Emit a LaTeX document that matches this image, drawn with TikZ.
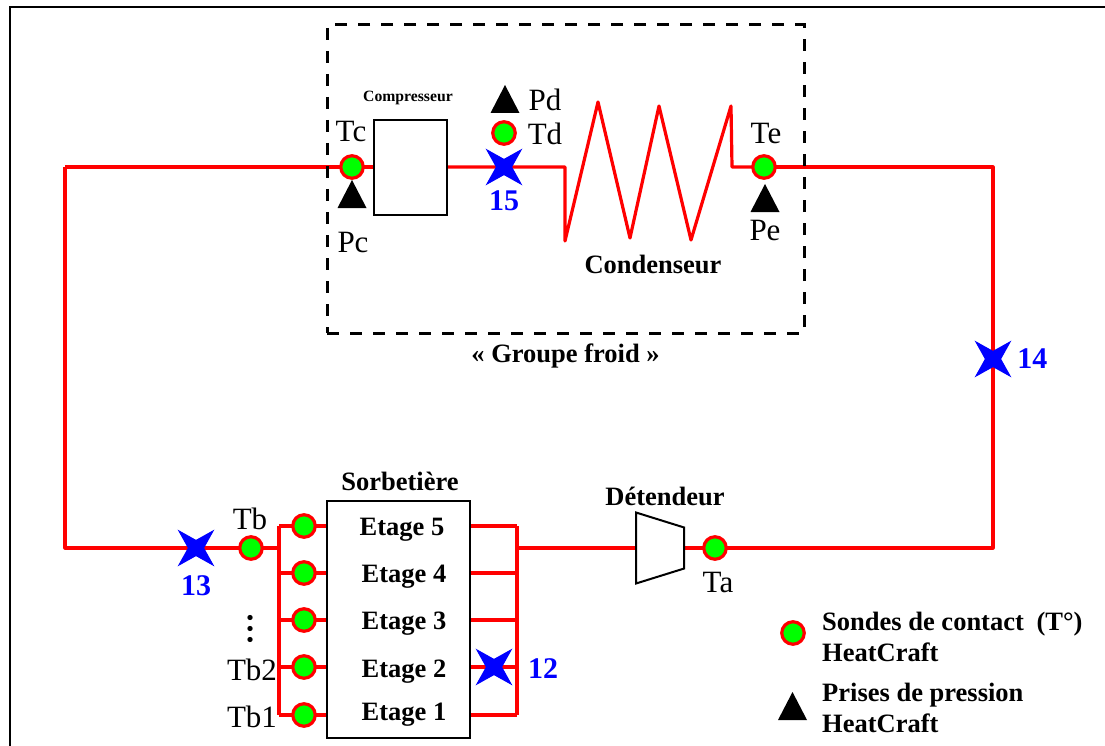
\documentclass[tikz,border=0pt]{standalone}
\usepackage{fontspec}
\setmainfont{Liberation Serif}
\usepackage{tikz}
\usetikzlibrary{shapes.geometric,backgrounds,positioning}

\begin{document}
\begin{tikzpicture}[
  x=1pt,y=-1pt,
  pipe/.style={draw=red,line width=3.2pt,line join=round},
  sonde/.style={circle,draw=red,fill=green,line width=3.2pt,minimum size=22.5pt,inner sep=0pt,outer sep=0pt},
  prise/.style={isosceles triangle,isosceles triangle stretches,shape border rotate=90,
    fill=black,inner sep=1pt,minimum width=29pt,minimum height=28pt,outer sep=0pt,anchor=lower side},
  vanne/.style={star,star points=4,star point ratio=3.2,shape border rotate=45,fill=blue,
    minimum size=52pt,inner sep=0pt,outer sep=0pt},
  numlbl/.style={font=\fontsize{30}{30}\selectfont\bfseries,text=blue,inner sep=0pt},
  boxlbl/.style={font=\fontsize{26.5}{26.5}\selectfont\bfseries,inner sep=0pt},
  senslbl/.style={font=\fontsize{31}{31}\selectfont,inner sep=0pt},
  equip/.style={draw=black,fill=white,line width=2.5pt,inner sep=0pt,outer sep=0pt}
]
\useasboundingbox (0,0) rectangle (1105,746);
% cadre exterieur
\coordinate (cadreA) at (10,746);
\coordinate (cadreB) at (10,7);
\coordinate (cadreC) at (1105,7);
\draw[line width=2.5pt] (cadreA)--(cadreB)--(cadreC);

% groupe froid
\node[draw=black,line width=3pt,dash pattern=on 12pt off 11pt,minimum width=477pt,minimum height=308pt,
  inner sep=0pt,outer sep=0pt,anchor=north west] (groupe) at (327,25) {};
\node[boxlbl,below=11pt of groupe] (groupelbl) {« Groupe froid »};

% coins du circuit
\coordinate (cA) at (65,167);
\coordinate (cB) at (65,548);
\coordinate (cC) at (993,167);
\coordinate (cD) at (993,548);
\coordinate (busG) at (279,548);
\coordinate (busD) at (517,548);
\coordinate (z0) at (565,167);
\coordinate (z1) at (565,241);
\coordinate (z2) at (598,102);
\coordinate (z3) at (630,238);
\coordinate (z4) at (659,106);
\coordinate (z5) at (691,240);
\coordinate (z6) at (731,106);
\coordinate (z7) at (732,167);

% equipements
\node[equip,minimum width=73pt,minimum height=95pt,anchor=north west] (comp) at (374,120) {};
\node[font=\fontsize{15.7}{15.7}\selectfont\bfseries,inner sep=0pt] (complbl) at (408,98) {Compresseur};
\node[boxlbl] (condlbl) at (653,264) {Condenseur};
\node[equip,minimum width=143pt,minimum height=237pt,anchor=north west] (sorb) at (327,501) {};
\node[boxlbl] (sorblbl) at (400,481) {Sorbetière};
\node[equip,line width=2pt,inner sep=1pt,trapezium,trapezium stretches=true,trapezium angle=70,rotate=-90,
  minimum width=71pt,minimum height=48pt] (det) at (660,548) {};
\node[boxlbl] (detlbl) at (665,496) {Détendeur};

% sondes
\node[sonde] (Tc) at (352,167) {};
\node[sonde] (Td) at (504,133) {};
\node[sonde] (Te) at (764,167) {};
\node[sonde] (Ta) at (715,548) {};
\node[sonde] (Tb) at (251,548) {};
\foreach \n/\y/\xe/\ye in {5/526/402/530,4/573/404/577,3/620/404/624,2/667/404/672,1/715/404/715}{
  \node[sonde] (S\n) at (304,\y) {};
  \node[boxlbl] (E\n) at (\xe,\ye) {Etage \n};
  \coordinate (G\n) at (279,\y);
  \coordinate (D\n) at (517,\y);
}

% tuyauterie
\begin{scope}[on background layer]
  \draw[pipe] (cA)--(Tc);
  \draw[pipe] (Tc)--(comp.west |- Tc);
  \draw[pipe] (comp.east |- Tc)--(z0)--(z1)--(z2)--(z3)--(z4)--(z5)--(z6)--(z7)--(Te);
  \draw[pipe] (Te)--(cC)--(cD)--(Ta);
  \draw[pipe] (Ta)--(det.south);
  \draw[pipe] (det.north)--(busD);
  \draw[pipe] (cA)--(cB)--(Tb);
  \draw[pipe] (Tb)--(busG);
  \draw[pipe] (G5)--(G1);
  \draw[pipe] (D5)--(D1);
  \foreach \n in {5,4,3,2,1}{
    \draw[pipe] (G\n)--(S\n);
    \draw[pipe] (S\n)--(sorb.west |- S\n);
    \draw[pipe] (sorb.east |- D\n)--(D\n);
  }
\end{scope}

% prises de pression
\node[prise] (Pc) at (352,208) {};
\node[prise] (Pd) at (505,113) {};
\node[prise] (Pe) at (765,212) {};
% vannes
\node[vanne] (V15) at (504,167) {};
\node[vanne] (V14) at (993,359) {};
\node[vanne] (V13) at (196,548) {};
\node[vanne] (V12) at (494,667) {};
\node[numlbl,below=15pt of V15] (n15) {15};
\node[numlbl,right=16pt of V14] (n14) {14};
\node[numlbl,below=19pt of V13] (n13) {13};
\node[numlbl] (n12) at (543,669) {12};

% etiquettes
\node[senslbl] (lTc) at (351,132) {Tc};
\node[senslbl] (lPc) at (353,243) {Pc};
\node[senslbl] (lPd) at (545,100) {Pd};
\node[senslbl] (lTd) at (545,134) {Td};
\node[senslbl] (lTe) at (766,134) {Te};
\node[senslbl] (lPe) at (765,231) {Pe};
\node[senslbl] (lTa) at (718,582) {Ta};
\node[senslbl] (lTb) at (250,519) {Tb};
\node[senslbl] (lTbB) at (252,670) {Tb2};
\node[senslbl] (lTbA) at (252,717) {Tb1};
\node[font=\fontsize{44}{44}\selectfont,inner sep=0pt,rotate=90] (lDots) at (251,629) {...};

% legende
\node[sonde] (legS) at (793,633) {};
\node[prise] (legP) at (792.5,720) {};
\node[boxlbl,anchor=west] (legS1) at (822,624) {Sondes de contact\hspace{6pt} (T°)};
\node[boxlbl,anchor=west] (legS2) at (822,652.5) {HeatCraft};
\node[boxlbl,anchor=west] (legP1) at (822,695) {Prises de pression};
\node[boxlbl,anchor=west] (legP2) at (822,723.5) {HeatCraft};
\end{tikzpicture}
\end{document}
